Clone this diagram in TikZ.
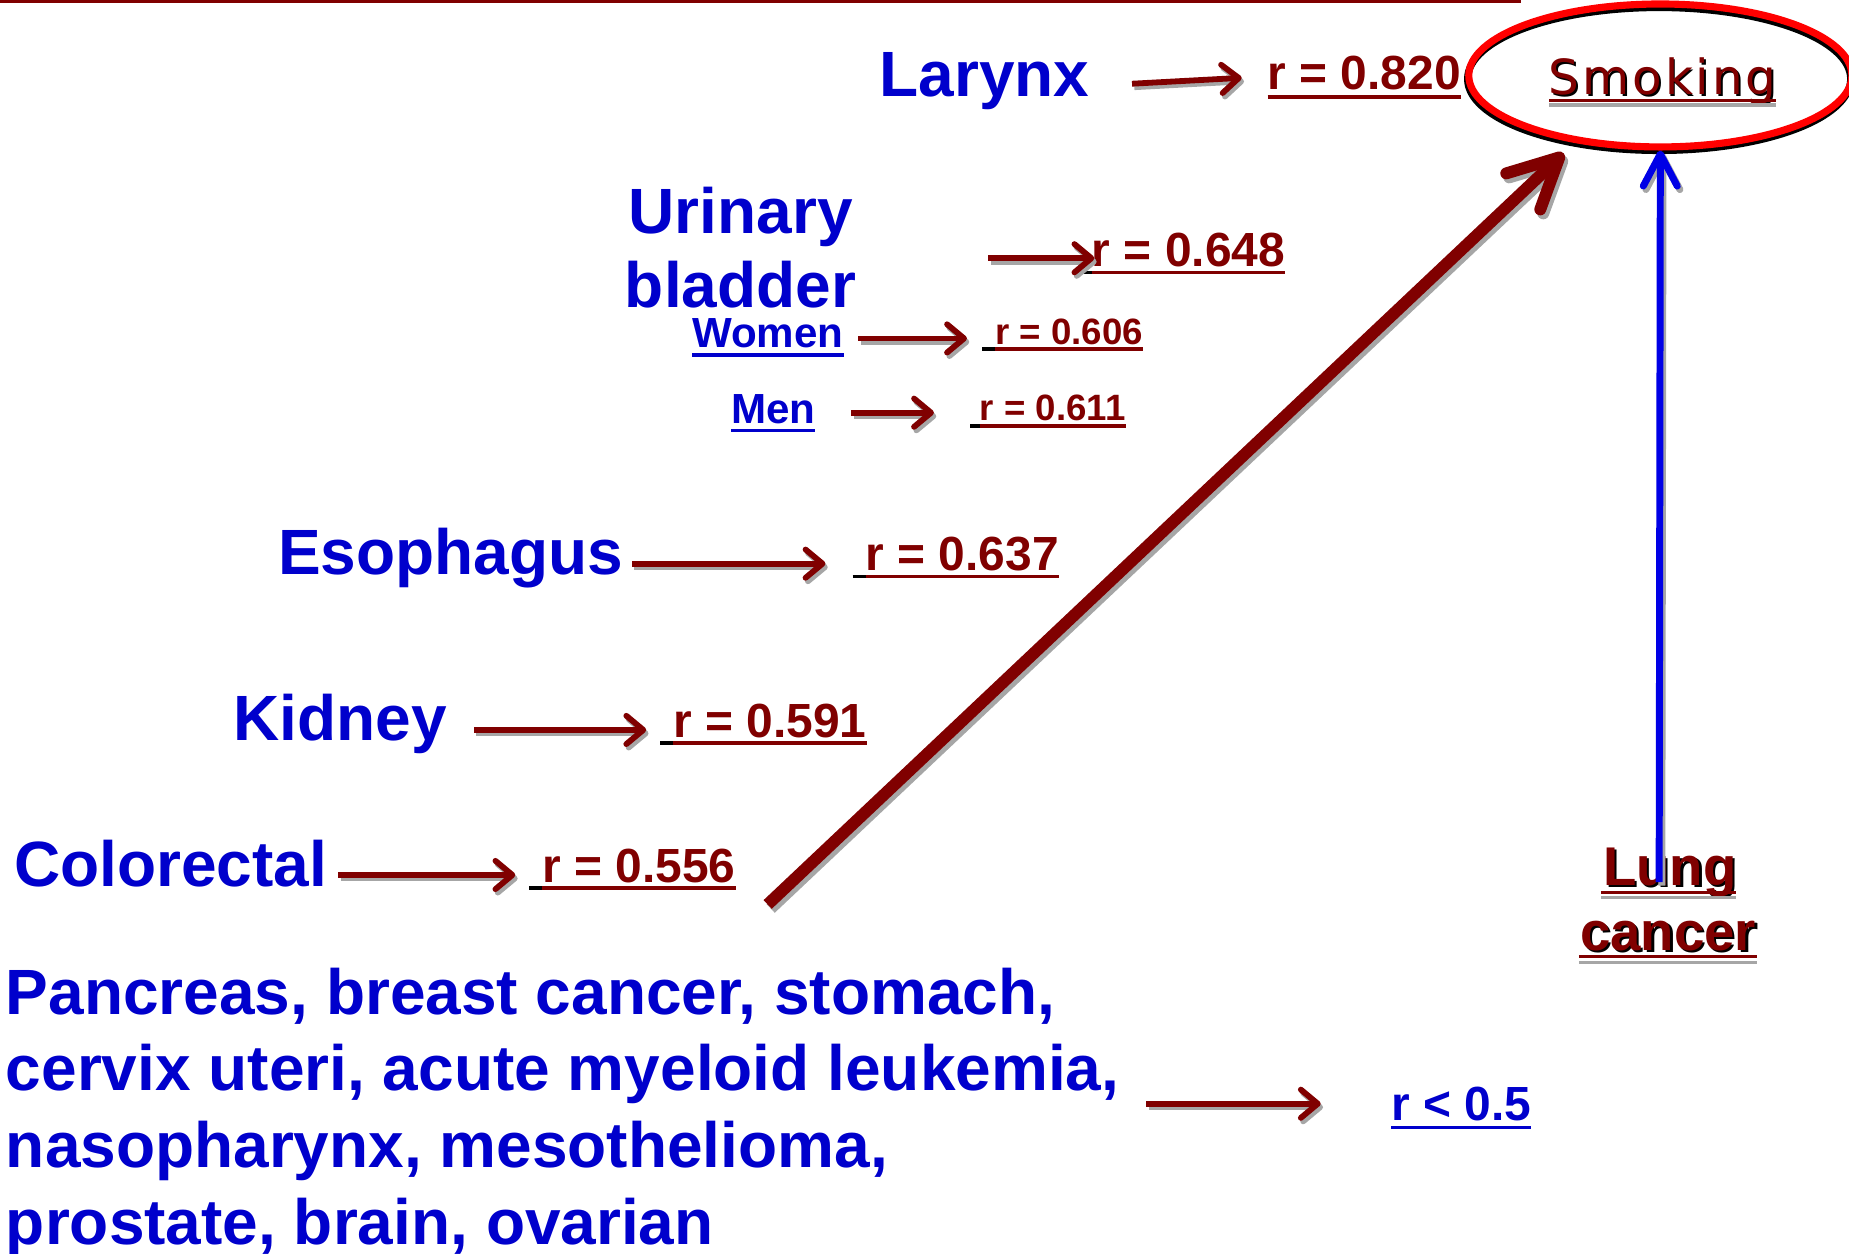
\documentclass[tikz,border=0pt]{standalone}
\usepackage{fontspec}
\setmainfont{Liberation Sans}
\newfontfamily\smokefont{DejaVu Sans}[LetterSpace=6]
\usetikzlibrary{arrows.meta,shapes.geometric,calc}
\definecolor{dred}{HTML}{800000}
\definecolor{tblue}{HTML}{0000CC}
\definecolor{ablue}{HTML}{0000E6}
\definecolor{shgray}{HTML}{A6A6A6}
\definecolor{ered}{HTML}{FF0000}
\tikzset{
  lab/.style={anchor=base west, inner sep=0pt, outer sep=0pt, text=tblue, font=\bfseries\fontsize{38.6}{40}\selectfont},
  sublab/.style={lab, font=\bfseries\fontsize{25.4}{26}\selectfont},
  rv/.style={anchor=base west, inner sep=0pt, outer sep=0pt, text=dred, font=\bfseries\fontsize{28.9}{30}\selectfont},
  rvs/.style={rv, font=\bfseries\fontsize{22.1}{23}\selectfont},
  lungst/.style={anchor=base, inner sep=0pt, outer sep=0pt, text=dred, font=\bfseries\fontsize{32.9}{34}\selectfont},
  lungsh/.style={lungst, text=black},
  smokest/.style={anchor=base, inner sep=0pt, outer sep=0pt, text=dred, font=\smokefont\fontsize{29.2}{31}\selectfont},
  smokesh/.style={smokest, text=black},
  ulr/.style={draw=dred, line width=2.2pt},
  ulk/.style={draw=black, line width=2.2pt},
  ulg/.style={draw=shgray, line width=2pt},
  ulb/.style={draw=tblue, line width=2pt},
  sarr/.style={draw=dred, line width=3.5pt, -{Straight Barb[length=0.36cm,width=0.6cm,round]}},
  sarrsh/.style={sarr, draw=shgray, transform canvas={shift={(1.4pt,-2.1pt)}}},
  barr/.style={draw=dred, line width=7.2pt, -{Straight Barb[length=1.05cm,width=1.05cm,round]}},
  barrsh/.style={barr, draw=shgray, transform canvas={shift={(1.8pt,-2.4pt)}}},
  blarr/.style={draw=ablue, line width=4.2pt, -{Straight Barb[length=0.68cm,width=0.72cm,round]}},
  blarrsh/.style={blarr, draw=shgray, transform canvas={shift={(1.6pt,-2.1pt)}}},
  ellred/.style={ellipse, draw=ered, line width=4.3pt, minimum width=8.12cm, minimum height=3.03cm, inner sep=0pt},
  ellsh/.style={ellred, draw=black},
}
\newcommand\shdraw[3]{\draw[#1sh] (#2) -- (#3); \draw[#1] (#2) -- (#3);}
\newcommand\rul[3]{% node, black lead, drop
  \draw[ulk] ($(#1.base west)+(-#2,#3)$) -- ($(#1.base west)+(0,#3)$);
  \draw[ulr] ($(#1.base west)+(0,#3)$) -- ($(#1.base east)+(0,#3)$);}
\begin{document}
\begin{tikzpicture}[x=0.025cm, y=-0.025cm]
\useasboundingbox (0,0) rectangle (1568,1063);
\clip (0,0) rectangle (1568,1063);
% top rule
\draw[dred, line width=1.9pt] (0,1.2) -- (1290,1.2);

% ellipse "Smoking"
\node[ellsh] (smokeshadow) at (1407,67) {};
\node[ellred] (smoke) at (1408,64) {};
\node[smokesh] (smoketxtsh) at (1411.5,81.5) {Smoking};
\node[smokest] (smoketxt) at (1410,80) {Smoking};
\draw[ulg] (1314,89) -- (1506,89);
\draw[dred, line width=1.8pt] (1314,85) -- (1506,85);

% left labels
\node[lab] (larynx) at (746,82) {Larynx};
\node[lab] (urinary) at (533,198) {Urinary};
\node[lab] (bladder) at (530,261) {bladder};
\node[sublab] (women) at (587,295) {Women};
\node[sublab] (men) at (620,359) {Men};
\node[lab] (esoph) at (236,487) {Esophagus};
\node[lab] (kidney) at (198,628) {Kidney};
\node[lab] (colo) at (12,752) {Colorectal};
\node[lab] (p1) at (5,860) {Pancreas, breast cancer, stomach,};
\node[lab] (p2) at (5,925) {cervix uteri, acute myeloid leukemia,};
\node[lab] (p3) at (5,990) {nasopharynx, mesothelioma,};
\node[lab] (p4) at (5,1055) {prostate, brain, ovarian};
\draw[ulb] ($(women.base west)+(0,6)$) -- ($(women.base east)+(0,6)$);
\draw[ulb] ($(men.base west)+(0,6)$) -- ($(men.base east)+(0,6)$);

% r values
\node[rv] (r820) at (1075,76) {r = 0.820};
\node[rv] (r648) at (926,226) {r = 0.648};
\node[rvs] (r606) at (844,292) {r = 0.606};
\node[rvs] (r611) at (831,357) {r = 0.611};
\node[rv] (r637) at (734,484) {r = 0.637};
\node[rv] (r591) at (571,625) {r = 0.591};
\node[rv] (r556) at (460,748) {r = 0.556};
\node[rv, text=tblue] (rlow) at (1180,950) {r < 0.5};
\draw[ulr] ($(r820.base west)+(0,6)$) -- ($(r820.base east)+(0,6)$);
\rul{r648}{11}{5}
\rul{r606}{11}{4}
\rul{r611}{8}{4}
\rul{r637}{11}{5}
\rul{r591}{11}{5}
\rul{r556}{11}{5}
\draw[ulb, line width=2.2pt] ($(rlow.base west)+(0,6)$) -- ($(rlow.base east)+(0,6)$);

% arrow end points
\coordinate (a1s) at (960,71);   \coordinate (a1e) at (1053,66);
\coordinate (a2s) at (838,219);  \coordinate (a2e) at (928,219);
\coordinate (a3s) at (728,287);  \coordinate (a3e) at (820,287);
\coordinate (a4s) at (722,350);  \coordinate (a4e) at (792,350);
\coordinate (a5s) at (536,478);  \coordinate (a5e) at (700,478);
\coordinate (a6s) at (402,619);  \coordinate (a6e) at (548,619);
\coordinate (a7s) at (287,742);  \coordinate (a7e) at (437,742);
\coordinate (a8s) at (972,936);  \coordinate (a8e) at (1120,936);
\shdraw{sarr}{a1s}{a1e}
\shdraw{sarr}{a2s}{a2e}
\shdraw{sarr}{a3s}{a3e}
\shdraw{sarr}{a4s}{a4e}
\shdraw{sarr}{a5s}{a5e}
\shdraw{sarr}{a6s}{a6e}
\shdraw{sarr}{a7s}{a7e}
\shdraw{sarr}{a8s}{a8e}

% big arrow
\coordinate (bigstart) at (651,767);
\coordinate (bigtip) at (1326,130);
\shdraw{barr}{bigstart}{bigtip}

% Lung cancer
\node[lungsh] (lung1sh) at (1418,753) {Lung};
\node[lungst] (lung1) at (1416,751) {Lung};
\node[lungsh] (lung2sh) at (1416.5,808) {cancer};
\node[lungst] (lung2) at (1414.5,806) {cancer};
\draw[ulg] ($(lung1.base west)+(-2,10)$) -- ($(lung1.base east)+(0,10)$);
\draw[ulr] ($(lung1.base west)+(-2,6)$) -- ($(lung1.base east)+(0,6)$);
\draw[ulg] ($(lung2.base west)+(-1,10)$) -- ($(lung2.base east)+(1,10)$);
\draw[ulr] ($(lung2.base west)+(-1,5)$) -- ($(lung2.base east)+(1,5)$);

% blue arrow
\coordinate (bluestart) at (1407,748);
\shdraw{blarr}{bluestart}{smoke.south}
\end{tikzpicture}
\end{document}
